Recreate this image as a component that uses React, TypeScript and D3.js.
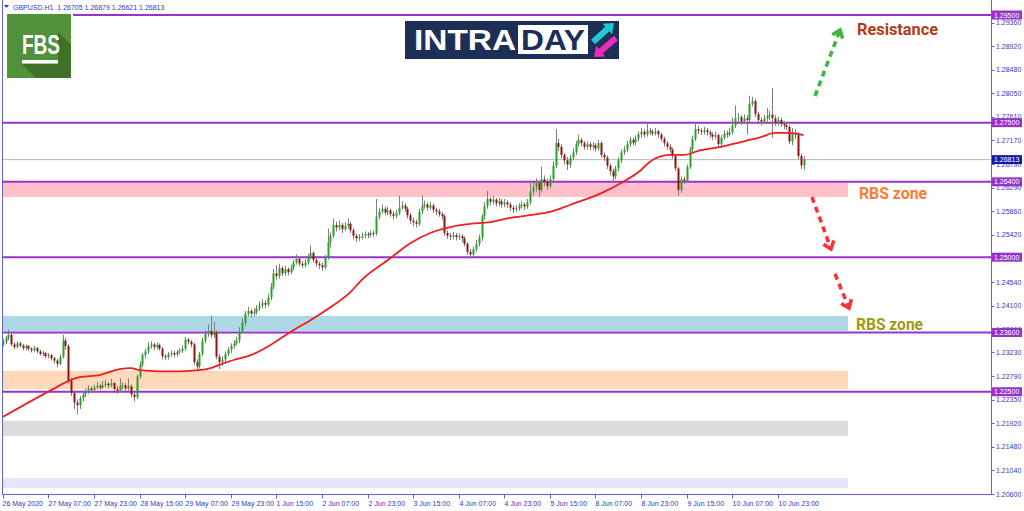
import React from "react";
import * as d3 from "d3";

// ---------- DATA ----------
const symbolTitle = "GBPUSD.H1";
const lastOHLC = ["1.26705", "1.26879", "1.26621", "1.26813"];
const firstOpen = 1.2338;

const closes = [
  1.2342,1.2350,1.2356,1.2338,1.2333,1.2340,1.2336,1.2331,1.2335,1.2330,
  1.2327,1.2331,1.2325,1.2320,1.2322,1.2316,1.2318,1.2312,1.2308,1.2302,
  1.2315,1.2345,1.2335,1.2270,1.2248,1.2230,1.2225,1.2238,1.2245,1.2250,
  1.2256,1.2253,1.2258,1.2261,1.2258,1.2262,1.2265,1.2262,1.2266,1.2255,
  1.2252,1.2260,1.2262,1.2256,1.2260,1.2245,1.2240,1.2278,1.2300,1.2318,
  1.2325,1.2335,1.2338,1.2333,1.2337,1.2330,1.2316,1.2314,1.2320,1.2322,
  1.2319,1.2324,1.2326,1.2330,1.2347,1.2343,1.2338,1.2305,1.2297,1.2320,
  1.2345,1.2358,1.2363,1.2355,1.2360,1.2315,1.2305,1.2310,1.2320,1.2328,
  1.2335,1.2340,1.2345,1.2362,1.2378,1.2395,1.2400,1.2395,1.2398,1.2405,
  1.2410,1.2415,1.2412,1.2425,1.2445,1.2470,1.2465,1.2480,1.2470,1.2478,
  1.2472,1.2480,1.2490,1.2497,1.2488,1.2485,1.2490,1.2500,1.2508,1.2495,
  1.2488,1.2485,1.2481,1.2499,1.2528,1.2540,1.2560,1.2555,1.2560,1.2552,
  1.2558,1.2562,1.2550,1.2540,1.2535,1.2538,1.2540,1.2543,1.2541,1.2545,
  1.2544,1.2575,1.2585,1.2590,1.2583,1.2587,1.2580,1.2577,1.2582,1.2592,
  1.2596,1.2590,1.2578,1.2568,1.2565,1.2562,1.2585,1.2595,1.2598,1.2592,
  1.2596,1.2588,1.2585,1.2580,1.2576,1.2545,1.2540,1.2538,1.2541,1.2537,
  1.2539,1.2535,1.2525,1.2510,1.2505,1.2515,1.2525,1.2536,1.2576,1.2595,
  1.2608,1.2603,1.2607,1.2600,1.2604,1.2598,1.2602,1.2598,1.2592,1.2589,
  1.2591,1.2595,1.2598,1.2594,1.2602,1.2622,1.2630,1.2638,1.2625,1.2645,
  1.2640,1.2632,1.2645,1.2670,1.2712,1.2705,1.2690,1.2680,1.2672,1.2685,
  1.2695,1.2710,1.2718,1.2712,1.2705,1.2710,1.2705,1.2708,1.2702,1.2712,
  1.2690,1.2685,1.2670,1.2660,1.2650,1.2665,1.2680,1.2695,1.2700,1.2710,
  1.2718,1.2713,1.2720,1.2728,1.2733,1.2728,1.2735,1.2733,1.2730,1.2734,
  1.2728,1.2720,1.2712,1.2705,1.2700,1.2688,1.2665,1.2625,1.2645,1.2642,
  1.2668,1.2700,1.2720,1.2738,1.2735,1.2733,1.2736,1.2732,1.2728,1.2724,
  1.2727,1.2710,1.2722,1.2730,1.2728,1.2732,1.2745,1.2758,1.2760,1.2752,
  1.2758,1.2755,1.2785,1.2790,1.2766,1.2755,1.2752,1.2758,1.2762,1.2765,
  1.2758,1.2750,1.2755,1.2748,1.2745,1.2742,1.2715,1.2730,1.2728,1.2688,
  1.26705,1.26813,
];

const highs = [
  1.2348,1.2354,1.2365,1.2359,1.2342,1.2344,1.2343,1.2339,1.2338,1.2337,
  1.2333,1.2335,1.2333,1.2328,1.2326,1.2324,1.2322,1.2320,1.2315,1.2311,
  1.2319,1.2356,1.2350,1.2338,1.2276,1.2252,1.2236,1.2242,1.2250,1.2256,
  1.2262,1.2260,1.2263,1.2268,1.2265,1.2270,1.2272,1.2268,1.2274,1.2268,
  1.2260,1.2275,1.2268,1.2266,1.2275,1.2264,1.2250,1.2282,1.2306,1.2322,
  1.2330,1.2342,1.2344,1.2341,1.2342,1.2340,1.2333,1.2320,1.2324,1.2327,
  1.2326,1.2328,1.2331,1.2336,1.2352,1.2350,1.2346,1.2341,1.2310,1.2324,
  1.2350,1.2364,1.2375,1.2391,1.2380,1.2364,1.2320,1.2316,1.2325,1.2333,
  1.2340,1.2346,1.2352,1.2370,1.2386,1.2400,1.2408,1.2404,1.2405,1.2411,
  1.2418,1.2422,1.2420,1.2432,1.2452,1.2478,1.2485,1.2488,1.2484,1.2484,
  1.2481,1.2486,1.2495,1.2505,1.2500,1.2493,1.2496,1.2506,1.2522,1.2511,
  1.2498,1.2492,1.2490,1.2504,1.2553,1.2546,1.2572,1.2566,1.2568,1.2564,
  1.2565,1.2572,1.2566,1.2554,1.2544,1.2543,1.2546,1.2548,1.2547,1.2550,
  1.2550,1.2608,1.2592,1.2598,1.2594,1.2593,1.2590,1.2585,1.2588,1.2614,
  1.2604,1.2600,1.2594,1.2582,1.2574,1.2570,1.2590,1.2615,1.2605,1.2602,
  1.2603,1.2600,1.2592,1.2590,1.2584,1.2580,1.2550,1.2545,1.2547,1.2545,
  1.2544,1.2543,1.2539,1.2528,1.2515,1.2520,1.2532,1.2542,1.2580,1.2602,
  1.2623,1.2612,1.2614,1.2610,1.2610,1.2608,1.2608,1.2606,1.2602,1.2596,
  1.2597,1.2600,1.2604,1.2602,1.2608,1.2642,1.2638,1.2646,1.2642,1.2668,
  1.2652,1.2646,1.2652,1.2678,1.2738,1.2720,1.2710,1.2694,1.2686,1.2690,
  1.2702,1.2716,1.2728,1.2722,1.2716,1.2715,1.2714,1.2714,1.2712,1.2718,
  1.2716,1.2695,1.2689,1.2674,1.2664,1.2670,1.2686,1.2700,1.2707,1.2716,
  1.2724,1.2722,1.2726,1.2734,1.2740,1.2738,1.2750,1.2740,1.2738,1.2740,
  1.2737,1.2731,1.2724,1.2716,1.2710,1.2704,1.2692,1.2668,1.2650,1.2650,
  1.2672,1.2705,1.2726,1.2748,1.2744,1.2740,1.2742,1.2740,1.2736,1.2732,
  1.2733,1.2730,1.2727,1.2736,1.2735,1.2740,1.2760,1.2782,1.2768,1.2764,
  1.2765,1.2764,1.2800,1.2798,1.2794,1.2770,1.2760,1.2764,1.2777,1.2772,
  1.2814,1.2764,1.2761,1.2759,1.2752,1.2750,1.2746,1.2740,1.2738,1.2732,
  1.2692,1.26879,
];

const lows = [
  1.2334,1.2338,1.2346,1.2335,1.2329,1.2330,1.2332,1.2327,1.2328,1.2326,
  1.2323,1.2324,1.2321,1.2317,1.2316,1.2312,1.2312,1.2308,1.2302,1.2295,
  1.2299,1.2312,1.2328,1.2265,1.2242,1.2218,1.2208,1.2218,1.2232,1.2240,
  1.2246,1.2248,1.2249,1.2254,1.2253,1.2255,1.2258,1.2256,1.2258,1.2250,
  1.2246,1.2248,1.2254,1.2250,1.2252,1.2240,1.2232,1.2236,1.2274,1.2296,
  1.2312,1.2320,1.2330,1.2328,1.2329,1.2326,1.2310,1.2309,1.2310,1.2315,
  1.2314,1.2315,1.2320,1.2322,1.2326,1.2338,1.2332,1.2300,1.2289,1.2293,
  1.2316,1.2340,1.2352,1.2350,1.2350,1.2310,1.2292,1.2298,1.2305,1.2316,
  1.2322,1.2330,1.2336,1.2340,1.2358,1.2372,1.2390,1.2388,1.2390,1.2393,
  1.2400,1.2405,1.2406,1.2408,1.2420,1.2440,1.2458,1.2460,1.2465,1.2466,
  1.2466,1.2468,1.2476,1.2486,1.2483,1.2480,1.2481,1.2486,1.2496,1.2490,
  1.2482,1.2478,1.2475,1.2477,1.2495,1.2518,1.2535,1.2548,1.2550,1.2545,
  1.2548,1.2553,1.2545,1.2533,1.2528,1.2530,1.2533,1.2535,1.2535,1.2537,
  1.2538,1.2540,1.2570,1.2580,1.2578,1.2578,1.2575,1.2570,1.2572,1.2578,
  1.2588,1.2584,1.2572,1.2562,1.2558,1.2555,1.2558,1.2580,1.2590,1.2586,
  1.2588,1.2582,1.2578,1.2575,1.2570,1.2540,1.2534,1.2532,1.2533,1.2531,
  1.2532,1.2528,1.2520,1.2504,1.2498,1.2500,1.2510,1.2520,1.2530,1.2570,
  1.2590,1.2596,1.2598,1.2594,1.2595,1.2592,1.2593,1.2592,1.2586,1.2582,
  1.2584,1.2586,1.2590,1.2588,1.2590,1.2598,1.2615,1.2622,1.2612,1.2620,
  1.2632,1.2625,1.2628,1.2640,1.2665,1.2698,1.2684,1.2672,1.2662,1.2666,
  1.2680,1.2690,1.2705,1.2706,1.2700,1.2700,1.2699,1.2700,1.2696,1.2698,
  1.2685,1.2678,1.2664,1.2652,1.2638,1.2645,1.2660,1.2675,1.2690,1.2695,
  1.2705,1.2708,1.2708,1.2715,1.2722,1.2722,1.2724,1.2727,1.2725,1.2726,
  1.2722,1.2715,1.2706,1.2700,1.2694,1.2683,1.2660,1.2614,1.2620,1.2636,
  1.2638,1.2664,1.2695,1.2716,1.2728,1.2727,1.2728,1.2726,1.2722,1.2718,
  1.2719,1.2705,1.2706,1.2718,1.2722,1.2724,1.2728,1.2740,1.2750,1.2746,
  1.2748,1.2728,1.2750,1.2780,1.2760,1.2748,1.2745,1.2748,1.2752,1.2755,
  1.2722,1.2744,1.2745,1.2742,1.2738,1.2736,1.2710,1.2708,1.2720,1.2682,
  1.2664,1.26621,
];

// moving average (candle index, value)
const maIndex = [0,17,24,27,34,41,45,48,55,62,69,73,76,81,87,94,101,108,115,122,126,136,143,150,157,164,171,178,185,192,199,210,217,224,227,234,239,245,252,259,266,271,276,281];
const maValues = [1.2203,1.2253,1.2272,1.2277,1.2281,1.2292,1.2294,1.2290,1.2288,1.2288,1.2290,1.2294,1.2300,1.2309,1.2318,1.2337,1.2361,1.2383,1.2407,1.2435,1.2458,1.2498,1.2526,1.2545,1.2556,1.2562,1.2565,1.2573,1.2578,1.2584,1.2597,1.2619,1.2638,1.2662,1.2677,1.2690,1.2690,1.2699,1.2705,1.2714,1.2723,1.2731,1.2731,1.2727];

const timeLabels = ["26 May 2020","27 May 07:00","27 May 23:00","28 May 15:00","29 May 07:00","29 May 23:00","1 Jun 15:00","2 Jun 07:00","2 Jun 23:00","3 Jun 15:00","4 Jun 07:00","4 Jun 23:00","5 Jun 15:00","8 Jun 07:00","8 Jun 23:00","9 Jun 15:00","10 Jun 07:00","10 Jun 23:00"];
const candlesPerLabel = 16;

const priceTicks = [1.2936,1.2892,1.2848,1.2805,1.2761,1.2717,1.2673,1.2629,1.2586,1.2542,1.2498,1.2454,1.2410,1.2366,1.2323,1.2279,1.2235,1.2192,1.2148,1.2104,1.2060];
const levels = [1.295, 1.275, 1.264, 1.25, 1.236, 1.225];
const currentPrice = 1.26813;
const zoneTops = [1.2640, 1.2391, 1.2289, 1.2196, 1.2090];
const zoneBottoms = [1.2612, 1.2363, 1.2255, 1.2168, 1.2071];

// ---------- STYLE / LAYOUT ----------
const zoneColors = ["#ffc0cb", "#add8e6", "#ffd9b9", "#dcdcdc", "#e6e6fa"];
const W = 1024, H = 511;
const plotLeft = 2, plotRight = 991.5, plotBottom = 494.5, zoneRight = 848;
const frame = "#6262dc";
const axisText = "#3636c2";
const levelColor = "#9932cc";
const font = "'Liberation Sans', Arial, sans-serif";
const bull = "#27a327", bear = "#8b1414", wick = "#7d7d7d";

const y = d3.scaleLinear().domain([1.206, 1.295]).range([494, 15]);
const x = d3.scaleLinear().domain([0, 272]).range([2.7, 777.9]);

function thickArrow(x1: number, y1: number, x2: number, y2: number, sw: number, hw: number, hl: number) {
  const dx = x2 - x1, dy = y2 - y1, L = Math.hypot(dx, dy);
  const ux = dx / L, uy = dy / L, nx = -uy, ny = ux;
  const bx = x2 - ux * hl, by = y2 - uy * hl;
  const p = [
    [x1 - nx * sw / 2, y1 - ny * sw / 2],
    [bx - nx * sw / 2, by - ny * sw / 2],
    [bx - nx * hw / 2, by - ny * hw / 2],
    [x2, y2],
    [bx + nx * hw / 2, by + ny * hw / 2],
    [bx + nx * sw / 2, by + ny * sw / 2],
    [x1 + nx * sw / 2, y1 + ny * sw / 2],
  ];
  return p.map((q) => q.join(",")).join(" ");
}

function DashedArrow({ x1, y1, x2, y2, color }: { x1: number; y1: number; x2: number; y2: number; color: string }) {
  const a = Math.atan2(y2 - y1, x2 - x1);
  const th = (38 * Math.PI) / 180, hl = 9;
  const p1 = [x2 - hl * Math.cos(a - th), y2 - hl * Math.sin(a - th)];
  const p2 = [x2 - hl * Math.cos(a + th), y2 - hl * Math.sin(a + th)];
  const sx = x2 - 2 * Math.cos(a), sy = y2 - 2 * Math.sin(a);
  return (
    <g>
      <line x1={x1} y1={y1} x2={sx} y2={sy} stroke={color} strokeWidth={3.6} strokeDasharray="6,4.5" />
      <polyline points={`${p1[0]},${p1[1]} ${x2},${y2} ${p2[0]},${p2[1]}`} fill="none" stroke={color} strokeWidth={3.6} strokeLinejoin="miter" />
    </g>
  );
}

export default function App() {
  const opens = [firstOpen, ...closes.slice(0, -1)];
  const maLine = d3
    .line<number>()
    .x((_, i) => x(maIndex[i]))
    .y((v) => y(v))
    .curve(d3.curveMonotoneX)(maValues) as string;

  const levelBox = (v: number, bg: string, key: string) => (
    <g key={key}>
      <rect x={992} y={y(v) - 4.5} width={30} height={9} fill={bg} />
      <text x={994} y={y(v) + 2.6} fontSize={7} fill="#fff" fontFamily={font}>{v.toFixed(5)}</text>
    </g>
  );

  return (
    <div style={{ position: "absolute", left: 0, top: 0 }}>
      <svg width={W} height={H} viewBox={`0 0 ${W} ${H}`} style={{ display: "block" }}>
        <rect x={0} y={0} width={W} height={H} fill="#fff" />
        {/* zones */}
        {zoneTops.map((t, i) => (
          <rect key={"z" + i} x={plotLeft} y={y(t)} width={zoneRight - plotLeft} height={y(zoneBottoms[i]) - y(t)} fill={zoneColors[i]} />
        ))}
        {/* current price line */}
        <line x1={plotLeft} x2={plotRight} y1={y(currentPrice)} y2={y(currentPrice)} stroke="#b9b9b9" strokeWidth={1} />
        {/* levels */}
        {levels.map((v, i) => (
          <line key={"l" + i} x1={plotLeft} x2={plotRight} y1={y(v)} y2={y(v)} stroke={levelColor} strokeWidth={2} />
        ))}
        {/* candles */}
        {closes.map((c, i) => {
          const o = opens[i];
          const cx = Math.round(x(i));
          const top = y(Math.max(o, c)), bot = y(Math.min(o, c));
          return (
            <g key={"c" + i}>
              <line x1={cx + 0.5} x2={cx + 0.5} y1={y(highs[i])} y2={y(lows[i])} stroke={wick} strokeWidth={1} />
              <rect x={cx - 0.5} y={top} width={2} height={Math.max(1, bot - top)} fill={c >= o ? bull : bear} />
            </g>
          );
        })}
        {/* moving average */}
        <path d={maLine} fill="none" stroke="#f01e1e" strokeWidth={1.8} />

        {/* frame */}
        <line x1={2.5} x2={2.5} y1={0} y2={plotBottom} stroke={frame} strokeWidth={1} />
        <line x1={plotRight} x2={plotRight} y1={0} y2={plotBottom} stroke={frame} strokeWidth={1} />
        <line x1={2} x2={plotRight} y1={plotBottom} y2={plotBottom} stroke={frame} strokeWidth={1} />

        {/* price axis */}
        {priceTicks.map((v, i) => (
          <g key={"pt" + i}>
            <line x1={plotRight} x2={plotRight + 3} y1={Math.round(y(v)) + 0.5} y2={Math.round(y(v)) + 0.5} stroke={frame} />
            <text x={996} y={y(v) + 2.6} fontSize={7} fill={axisText} fontFamily={font}>{v.toFixed(5)}</text>
          </g>
        ))}
        {levels.map((v, i) => levelBox(v, levelColor, "lb" + i))}
        {levelBox(currentPrice, "#1818a8", "cur")}

        {/* time axis */}
        {timeLabels.map((t, i) => {
          const tx = Math.round(x(i * candlesPerLabel)) + 0.5;
          return (
            <g key={"t" + i}>
              <line x1={tx} x2={tx} y1={plotBottom} y2={plotBottom + 4} stroke={frame} />
              <text x={tx - (i === 0 ? 1 : 0)} y={506} fontSize={7} fill={axisText} fontFamily={font}>{t}</text>
            </g>
          );
        })}

        {/* title */}
        <path d="M4,5 L9,5 L6.5,8 Z" fill={axisText} />
        <text x={13} y={9.5} fontSize={7} fill={axisText} fontFamily={font} style={{ whiteSpace: "pre" }}>
          {symbolTitle + "  " + lastOHLC.join(" ")}
        </text>

        {/* FBS logo */}
        <rect x={3} y={11} width={70} height={70} fill="#fff" />
        <rect x={7} y={14} width={64} height={64} fill="#51913a" />
        <polygon points="58,32 71,45 71,78 36,78 22,64 58,64" fill="#3d7128" />
        <text x={22} y={54} fontSize={27} fontWeight="bold" fill="#fff" fontFamily={font} textLength={38} lengthAdjust="spacingAndGlyphs">FBS</text>
        <rect x={22} y={60} width={36} height={3.5} fill="#fff" />

        {/* INTRADAY logo */}
        <rect x={405} y={21} width={214} height={38} fill="#1c2f57" />
        <text x={414} y={50} fontSize={30} fontWeight="bold" fill="#fff" fontFamily={font} textLength={102} lengthAdjust="spacingAndGlyphs">INTRA</text>
        <rect x={518} y={25} width={70} height={29} fill="#fff" />
        <text x={521} y={50} fontSize={30} fontWeight="bold" fill="#1c2f57" fontFamily={font} textLength={64} lengthAdjust="spacingAndGlyphs">DAY</text>
        <polygon points={thickArrow(593, 42, 614, 23, 6, 14, 9)} fill="#1fc9d0" />
        <polygon points={thickArrow(616, 38, 594, 57, 6, 14, 9)} fill="#ef2bbf" />

        {/* annotations */}
        <DashedArrow x1={815} y1={96} x2={840} y2={30} color="#3fb83f" />
        <DashedArrow x1={812} y1={197} x2={831} y2={249} color="#ff3038" />
        <DashedArrow x1={835} y1={274} x2={849} y2={308} color="#ff3038" />
        <text x={857} y={35} fontSize={16.5} fontWeight="bold" fill="#b23c12" fontFamily="Roboto, sans-serif" textLength={81} lengthAdjust="spacingAndGlyphs">Resistance</text>
        <text x={859} y={199} fontSize={16.5} fontWeight="bold" fill="#ff7a32" fontFamily="Roboto, sans-serif" textLength={68} lengthAdjust="spacingAndGlyphs">RBS zone</text>
        <text x={856} y={330} fontSize={16.5} fontWeight="bold" fill="#9c9a14" fontFamily="Roboto, sans-serif" textLength={67} lengthAdjust="spacingAndGlyphs">RBS zone</text>
      </svg>
    </div>
  );
}
